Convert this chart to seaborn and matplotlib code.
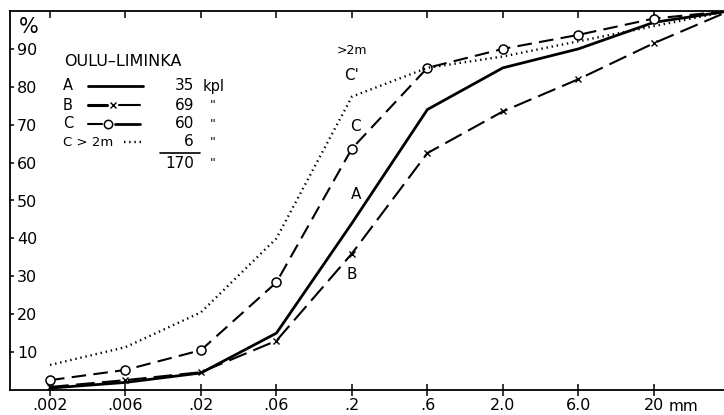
import numpy as np
import pandas as pd
import seaborn as sns
import matplotlib.pyplot as plt
from matplotlib.lines import Line2D

# ---- data ----
sizes = [".002", ".006", ".02", ".06", ".2", ".6", "2.0", "6.0", "20", "60"]
tick_labels = [".002", ".006", ".02", ".06", ".2", ".6", "2.0", "6.0", "20"]
a_vals = [0.5, 2.0, 4.5, 15.0, 44.0, 74.0, 85.0, 90.0, 97.0, 100.0]
b_vals = [0.8, 2.6, 4.7, 13.0, 36.0, 62.5, 73.5, 82.0, 91.5, 100.0]
c_vals = [2.6, 5.3, 10.5, 28.4, 63.7, 85.0, 90.0, 93.7, 98.0, 100.0]
c2m_vals = [6.6, 11.3, 20.5, 40.0, 77.4, 85.0, 88.0, 92.0, 96.0, 100.0]
y_ticks = [10, 20, 30, 40, 50, 60, 70, 80, 90]

legend_title = "OULU\u2013LIMINKA"
legend_names = ["A", "B", "C", "C > 2m"]
legend_counts = ["35", "69", "60", "6"]
legend_total = "170"

sns.set_style("white")
plt.rcParams['font.family'] = ['DejaVu Sans']
plt.rcParams['text.color'] = 'black'
plt.rcParams['xtick.color'] = 'black'
plt.rcParams['ytick.color'] = 'black'

W, H = 724, 415
fig = plt.figure(figsize=(W / 100, H / 100), dpi=100)
L, R, T, B = 10, 724, 11, 390
ax = fig.add_axes([L / W, 1 - B / H, (R - L) / W, (B - T) / H])

xpos = np.arange(len(sizes))
df = pd.DataFrame({"x": xpos, "A": a_vals, "B": b_vals, "C": c_vals, "C2": c2m_vals})

sns.lineplot(data=df, x="x", y="A", ax=ax, color="black", linewidth=2.0)
sns.lineplot(data=df, x="x", y="B", ax=ax, color="black", linewidth=1.5,
             linestyle=(0, (9, 3.5)), marker="x", markersize=4.5,
             markeredgewidth=1.0, markeredgecolor="black")
sns.lineplot(data=df, x="x", y="C", ax=ax, color="black", linewidth=1.5,
             linestyle=(0, (7, 3.5)), marker="o", markersize=6.5,
             markerfacecolor="white", markeredgecolor="black", markeredgewidth=1.1)
sns.lineplot(data=df, x="x", y="C2", ax=ax, color="black", linewidth=1.7,
             linestyle=(0, (0.6, 1.6)))

ax.set_xlim(-0.53, 8.93)
ax.set_ylim(0, 100)
ax.set_xlabel("")
ax.set_ylabel("")

ax.set_xticks(xpos[:len(tick_labels)])
ax.set_xticklabels(tick_labels, fontsize=11.5)
ax.set_yticks(y_ticks)
ax.set_yticklabels([str(v) for v in y_ticks], fontsize=11.5)

for s in ["left", "bottom", "top"]:
    ax.spines[s].set_visible(True)
    ax.spines[s].set_color("black")
    ax.spines[s].set_linewidth(1.3)
ax.spines["right"].set_visible(False)

ax.tick_params(axis="x", which="both", bottom=True, top=True, direction="inout",
               length=9, width=1.1, pad=1.5, colors="black")
ax.tick_params(axis="x", which="both", top=True, labeltop=False)
ax.tick_params(axis="y", left=True, direction="in", length=3, width=1.1,
               pad=-5, colors="black")
for lab in ax.get_yticklabels():
    lab.set_horizontalalignment("left")

# top ticks inward only
for t in ax.xaxis.get_major_ticks():
    t.tick2line.set_marker(3)  # TICKDOWN
    t.tick2line.set_markersize(5)

ax.grid(False)

# "%" and "mm"
fig.text(29 / W, 1 - 27 / H, "%", fontsize=15, ha="center", va="center")
fig.text(669 / W, 1 - 406 / H, "mm", fontsize=11, ha="left", va="center")

# curve labels
ax.text(4.0, 89.5, ">2m", fontsize=9, ha="center", va="center")
ax.text(4.0, 83.0, "C'", fontsize=11, ha="center", va="center")
ax.text(4.05, 69.5, "C", fontsize=11, ha="center", va="center")
ax.text(4.05, 51.5, "A", fontsize=11, ha="center", va="center")
ax.text(4.0, 30.5, "B", fontsize=11, ha="center", va="center")

# legend block
def fx(px):
    return px / W

def fy(py):
    return 1 - py / H

fig.text(fx(64), fy(61), legend_title, fontsize=11.5, ha="left", va="center")
rows_y = [86, 105, 124, 142]
for name, cnt, yy in zip(legend_names, legend_counts, rows_y):
    fig.text(fx(63), fy(yy), name, fontsize=10.5 if len(name) == 1 else 9.5,
             ha="left", va="center")
    fig.text(fx(194), fy(yy), cnt, fontsize=11, ha="right", va="center")
fig.text(fx(203), fy(rows_y[0]), "kpl", fontsize=10.5, ha="left", va="center")
for yy in rows_y[1:] + [163]:
    fig.text(fx(213), fy(yy), "\"", fontsize=9, ha="center", va="center")
fig.text(fx(194), fy(163), legend_total, fontsize=11, ha="right", va="center")
fig.add_artist(Line2D([fx(160), fx(200)], [fy(153), fy(153)], color="black",
                      linewidth=1.2, transform=fig.transFigure))

# legend samples
fig.add_artist(Line2D([fx(88), fx(143)], [fy(rows_y[0]), fy(rows_y[0])], color="black",
                      linewidth=2.0, transform=fig.transFigure))
fig.add_artist(Line2D([fx(88), fx(107)], [fy(rows_y[1]), fy(rows_y[1])], color="black",
                      linewidth=2.2, transform=fig.transFigure))
fig.add_artist(Line2D([fx(113)], [fy(rows_y[1])], color="black", marker="x",
                      markersize=4, markeredgewidth=1.0, linestyle="none",
                      transform=fig.transFigure))
fig.add_artist(Line2D([fx(119), fx(140)], [fy(rows_y[1]), fy(rows_y[1])], color="black",
                      linewidth=1.5, transform=fig.transFigure))
fig.add_artist(Line2D([fx(88), fx(102)], [fy(rows_y[2]), fy(rows_y[2])], color="black",
                      linewidth=1.5, transform=fig.transFigure))
fig.add_artist(Line2D([fx(108)], [fy(rows_y[2])], color="black", marker="o",
                      markersize=6, markerfacecolor="white", markeredgewidth=1.1,
                      linestyle="none", transform=fig.transFigure))
fig.add_artist(Line2D([fx(115), fx(140)], [fy(rows_y[2]), fy(rows_y[2])], color="black",
                      linewidth=2.0, transform=fig.transFigure))
fig.add_artist(Line2D([fx(124), fx(144)], [fy(rows_y[3]), fy(rows_y[3])], color="black",
                      linewidth=1.7, linestyle=(0, (0.6, 1.6)), transform=fig.transFigure))

fig.savefig("out.png", dpi=100)
